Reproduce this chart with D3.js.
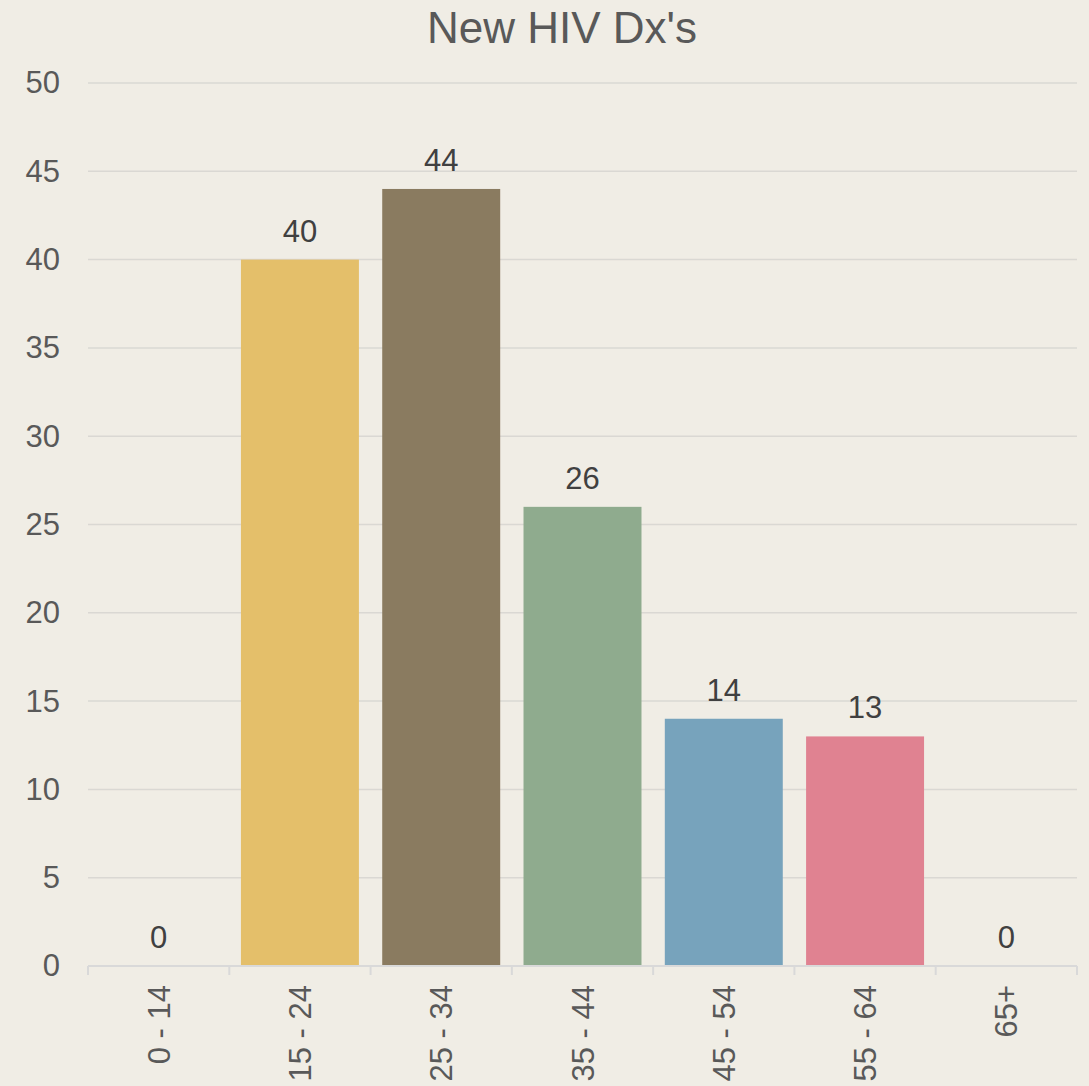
<!DOCTYPE html>
<html>
<head>
<meta charset="utf-8">
<script src="https://cdn.jsdelivr.net/npm/d3@7"></script>
<style>
  body { margin: 0; background: #F0EDE5; }
  svg { display: block; font-family: "Liberation Sans", Arial, sans-serif; }
</style>
</head>
<body>
<svg id="chart"></svg>
<script>
var width = 1089, height = 1086;
var margin = {top: 83, right: 12, bottom: 120, left: 88};

var categories = ["0 - 14", "15 - 24", "25 - 34", "35 - 44", "45 - 54", "55 - 64", "65+"];
var values = [0, 40, 44, 26, 14, 13, 0];
var colors = ["#E4BF6A", "#E4BF6A", "#8A7B60", "#8FAB8E", "#77A3BC", "#E08291", "#E08291"];
var yTicks = [0, 5, 10, 15, 20, 25, 30, 35, 40, 45, 50];

var svg = d3.select("#chart").attr("width", width).attr("height", height);
svg.append("rect").attr("width", width).attr("height", height).attr("fill", "#F0EDE5");

var plotW = 1077 - margin.left, plotH = 966 - margin.top;
var g = svg.append("g").attr("transform", "translate(" + margin.left + "," + margin.top + ")");

var x = d3.scaleBand().domain(categories).range([0, plotW]).paddingInner(0.165).paddingOuter(0.0825);
var y = d3.scaleLinear().domain([0, 50]).range([plotH, 0]);

// gridlines
g.selectAll(".grid").data(yTicks.slice(1)).enter().append("line")
    .attr("x1", 0).attr("x2", plotW)
    .attr("y1", function(d) { return y(d); }).attr("y2", function(d) { return y(d); })
    .attr("stroke", "#DAD8D3").attr("stroke-width", 1.5);

// y axis labels
var yAxis = g.append("g").call(d3.axisLeft(y).tickValues(yTicks).tickSize(0).tickPadding(28));
yAxis.select(".domain").remove();
yAxis.selectAll("text").attr("font-size", 31).attr("fill", "#595959")
    .attr("font-family", "Liberation Sans, Arial, sans-serif");

// bars
g.selectAll(".bar").data(values).enter().append("rect")
    .attr("x", function(d, i) { return x(categories[i]); })
    .attr("width", x.bandwidth())
    .attr("y", function(d) { return y(d); })
    .attr("height", function(d) { return plotH - y(d); })
    .attr("fill", function(d, i) { return colors[i]; });

// value labels
g.selectAll(".lbl").data(values).enter().append("text")
    .attr("x", function(d, i) { return x(categories[i]) + x.bandwidth() / 2; })
    .attr("y", function(d) { return y(d) - 18; })
    .attr("text-anchor", "middle")
    .attr("font-size", 31).attr("fill", "#404040")
    .text(function(d) { return d; });

// x axis
var step = x.step();
var bounds = categories.map(function(c) { return x(c) - x.paddingInner() * step / 2; });
bounds.push(plotW);
var xa = g.append("g").attr("transform", "translate(0," + plotH + ")");
xa.append("line").attr("x1", 0).attr("x2", plotW).attr("stroke", "#D9D9D9").attr("stroke-width", 2);
xa.selectAll(".tick").data(bounds).enter().append("line")
    .attr("x1", function(d) { return d; }).attr("x2", function(d) { return d; })
    .attr("y1", 0).attr("y2", 9).attr("stroke", "#D9D9D9").attr("stroke-width", 2);
xa.selectAll(".xl").data(categories).enter().append("text")
    .attr("transform", function(d) { return "translate(" + (x(d) + x.bandwidth() / 2 + 11) + ",19) rotate(-90)"; })
    .attr("text-anchor", "end")
    .attr("font-size", 31).attr("fill", "#595959")
    .text(function(d) { return d; });

// title
svg.append("text").attr("x", 562).attr("y", 43).attr("text-anchor", "middle")
    .attr("font-size", 44).attr("fill", "#595959").text("New HIV Dx's");
</script>
</body>
</html>
